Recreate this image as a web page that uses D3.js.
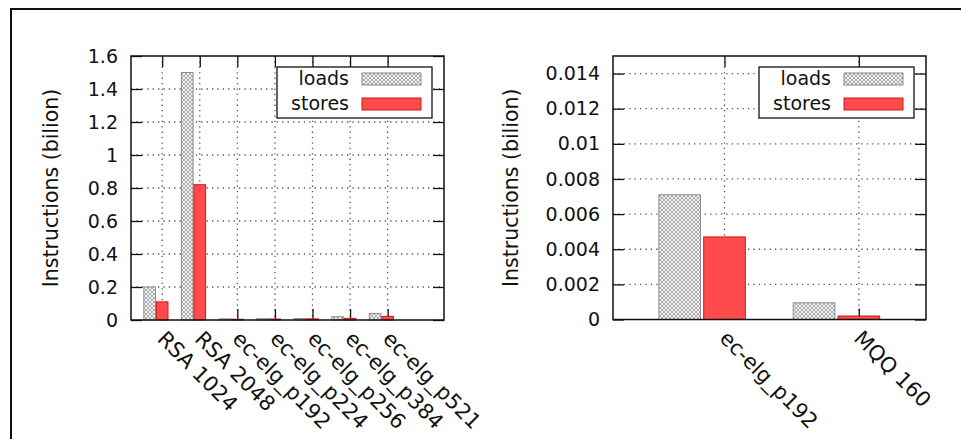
<!DOCTYPE html>
<html>
<head>
<meta charset="utf-8">
<script src="https://cdn.jsdelivr.net/npm/d3@7"></script>
<style>
  html, body { margin: 0; padding: 0; background: #fff; }
  svg { display: block; }
  text { font-family: "DejaVu Sans", sans-serif; fill: #111; }
</style>
</head>
<body>
<svg id="chart" width="961" height="439"></svg>
<script>
// Instruction counts (billions) per algorithm
const leftCategories = ["RSA 1024", "RSA 2048", "ec-elg_p192", "ec-elg_p224", "ec-elg_p256", "ec-elg_p384", "ec-elg_p521"];
const leftLoads  = [0.2, 1.5, 0.0071, 0.008, 0.009, 0.02, 0.04];
const leftStores = [0.11, 0.82, 0.0047, 0.006, 0.007, 0.01, 0.022];

const rightCategories = ["ec-elg_p192", "MQQ 160"];
const rightLoads  = [0.0071, 0.00095];
const rightStores = [0.0047, 0.0002];

const leftYTicks = [0, 0.2, 0.4, 0.6, 0.8, 1, 1.2, 1.4, 1.6];
const leftYTickLabels = ["0", "0.2", "0.4", "0.6", "0.8", "1", "1.2", "1.4", "1.6"];
const rightYTicks = [0, 0.002, 0.004, 0.006, 0.008, 0.01, 0.012, 0.014];
const rightYTickLabels = ["0", "0.002", "0.004", "0.006", "0.008", "0.01", "0.012", "0.014"];

const seriesNames = ["loads", "stores"];
const yTitle = "Instructions (bilion)";

const svg = d3.select("#chart");

// hatch pattern for the loads bars
const defs = svg.append("defs");
const pat = defs.append("pattern")
  .attr("id", "hatch").attr("patternUnits", "userSpaceOnUse")
  .attr("width", 4).attr("height", 4);
pat.append("rect").attr("width", 4).attr("height", 4).attr("fill", "#f2f2f2");
pat.append("path").attr("d", "M0,0L4,4M4,0L0,4")
  .attr("stroke", "#9a9a9a").attr("stroke-width", 0.8);

// outer frame
svg.append("path").attr("d", "M11,439V9H961")
  .attr("fill", "none").attr("stroke", "#111").attr("stroke-width", 2);

const TICK_FONT = 19;
const TITLE_FONT = 20.5;
const CAT_FONT = 21;
const TICK = 11;

function panel(cfg) {
  const { cats, loads, stores, yTicks, yLabels, box, xDomain, yDomain, titleX } = cfg;
  const x = d3.scaleLinear().domain(xDomain).range([box.x0, box.x1]);
  const y = d3.scaleLinear().domain(yDomain).range([box.y1, box.y0]);
  const w = box.x1 - box.x0, h = box.y1 - box.y0;
  const g = svg.append("g");
  const idx = cats.map((_, i) => i);

  // dotted grid
  const grid = g.append("g").attr("stroke", "#555").attr("stroke-width", 1.3)
    .attr("stroke-dasharray", "1.3,4.1");
  grid.selectAll("line.gy").data(yTicks.filter(v => v > yDomain[0] && v < yDomain[1]))
    .join("line").attr("class", "gy")
    .attr("x1", box.x0).attr("x2", box.x1)
    .attr("y1", d => y(d)).attr("y2", d => y(d));
  grid.selectAll("line.gx").data(idx).join("line").attr("class", "gx")
    .attr("x1", d => x(d)).attr("x2", d => x(d))
    .attr("y1", box.y0).attr("y2", box.y1);

  // y axes (left with labels, right mirrored)
  const yAxis = d3.axisLeft(y).tickValues(yTicks)
    .tickFormat((d, i) => yLabels[i]).tickSizeInner(-TICK).tickSizeOuter(0).tickPadding(13);
  const ya = g.append("g").attr("transform", `translate(${box.x0},0)`).call(yAxis);
  ya.select(".domain").remove();
  ya.selectAll("text").attr("font-size", TICK_FONT).style("font-family", "DejaVu Sans").attr("fill", "#111");
  ya.selectAll("line").attr("stroke", "#111").attr("stroke-width", 1.3);

  const yAxisR = d3.axisRight(y).tickValues(yTicks).tickFormat("")
    .tickSizeInner(-TICK).tickSizeOuter(0);
  const yr = g.append("g").attr("transform", `translate(${box.x1},0)`).call(yAxisR);
  yr.select(".domain").remove();
  yr.selectAll("line").attr("stroke", "#111").attr("stroke-width", 1.3);

  // x ticks bottom and top
  const xb = d3.axisBottom(x).tickValues(idx).tickFormat("").tickSizeInner(-TICK).tickSizeOuter(0);
  const xbG = g.append("g").attr("transform", `translate(0,${box.y1})`).call(xb);
  xbG.select(".domain").remove();
  xbG.selectAll("line").attr("stroke", "#111").attr("stroke-width", 1.3);
  const xt = d3.axisTop(x).tickValues(idx).tickFormat("").tickSizeInner(-TICK).tickSizeOuter(0);
  const xtG = g.append("g").attr("transform", `translate(0,${box.y0})`).call(xt);
  xtG.select(".domain").remove();
  xtG.selectAll("line").attr("stroke", "#111").attr("stroke-width", 1.3);

  // bars: loads centred a third of a slot left of the tick, stores on the tick
  const bw = 0.31;
  g.append("g").selectAll("rect").data(idx).join("rect")
    .attr("x", i => x(i - 1 / 3 - bw / 2)).attr("width", i => x(bw) - x(0))
    .attr("y", i => y(loads[i])).attr("height", i => y(0) - y(loads[i]))
    .attr("fill", "url(#hatch)").attr("stroke", "#8c8c8c").attr("stroke-width", 1);
  g.append("g").selectAll("rect").data(idx).join("rect")
    .attr("x", i => x(i - bw / 2)).attr("width", i => x(bw) - x(0))
    .attr("y", i => y(stores[i])).attr("height", i => y(0) - y(stores[i]))
    .attr("fill", "#ff4b4b").attr("stroke", "#d01818").attr("stroke-width", 1);

  // plot border
  g.append("rect").attr("x", box.x0).attr("y", box.y0).attr("width", w).attr("height", h)
    .attr("fill", "none").attr("stroke", "#111").attr("stroke-width", 1.5);

  // category labels, rotated
  g.append("g").selectAll("text").data(idx).join("text")
    .attr("transform", i => `translate(${x(i) - 6},${box.y1 + 20}) rotate(45)`)
    .attr("font-size", CAT_FONT)
    .text(i => cats[i]);

  // y title
  g.append("text")
    .attr("transform", `translate(${titleX},${(box.y0 + box.y1) / 2}) rotate(-90)`)
    .attr("text-anchor", "middle").attr("dy", "0.35em")
    .attr("font-size", TITLE_FONT).text(yTitle);

  // legend
  const lx = box.x1 - 12 - 155, ly = box.y0 + 11;
  const lg = g.append("g");
  lg.append("rect").attr("x", lx).attr("y", ly).attr("width", 155).attr("height", 51)
    .attr("fill", "#fff").attr("stroke", "#111").attr("stroke-width", 1.3);
  const fills = ["url(#hatch)", "#ff4b4b"], strokes = ["#8c8c8c", "#d01818"];
  seriesNames.forEach((name, k) => {
    lg.append("text").attr("x", lx + 72).attr("y", ly + 18 + k * 25)
      .attr("text-anchor", "end").attr("font-size", TICK_FONT).text(name);
    lg.append("rect").attr("x", lx + 85).attr("y", ly + 6 + k * 25)
      .attr("width", 59).attr("height", 12)
      .attr("fill", fills[k]).attr("stroke", strokes[k]).attr("stroke-width", 1);
  });
}

panel({
  cats: leftCategories, loads: leftLoads, stores: leftStores,
  yTicks: leftYTicks, yLabels: leftYTickLabels,
  box: { x0: 131, x1: 444, y0: 56, y1: 320 },
  xDomain: [-0.83, 7.5], yDomain: [0, 1.6], titleX: 51
});
panel({
  cats: rightCategories, loads: rightLoads, stores: rightStores,
  yTicks: rightYTicks, yLabels: rightYTickLabels,
  box: { x0: 613, x1: 926, y0: 56, y1: 319.5 },
  xDomain: [-0.83, 1.5], yDomain: [0, 0.015], titleX: 511
});
</script>
</body>
</html>
